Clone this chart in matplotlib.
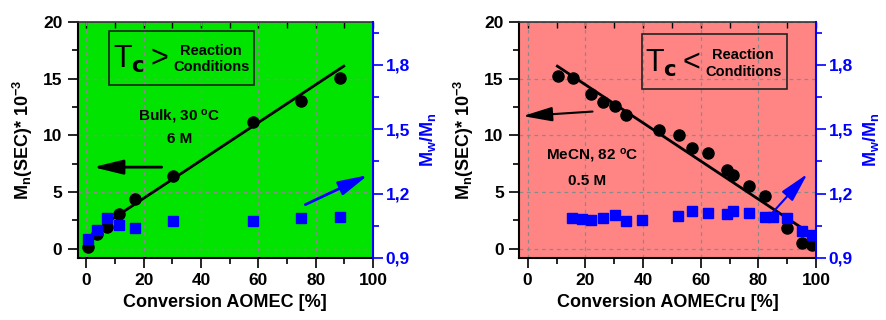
"""
Mn and Mw/Mn vs conversion: bulk AOMEC (left) and AOMECru in MeCN (right).
"""
import matplotlib
matplotlib.use('Agg')
import matplotlib.pyplot as plt
from matplotlib.ticker import MultipleLocator, FuncFormatter
from matplotlib.patches import Rectangle

plt.rcParams['font.family'] = ['Liberation Sans', 'DejaVu Sans']
plt.rcParams['font.weight'] = 'bold'
plt.rcParams['mathtext.default'] = 'regular'

# left panel: bulk, 30 C, 6 M
bulk_conv = [0.7, 3.6, 7.1, 11.3, 17.0, 30.3, 58.2, 74.9, 88.4]
bulk_mn = [0.2, 1.3, 1.9, 3.1, 4.4, 6.4, 11.2, 13.0, 15.1]
bulk_pdi = [0.99, 1.03, 1.086, 1.052, 1.04, 1.074, 1.074, 1.085, 1.089]
bulk_fit_x = [8.3, 89.8]
bulk_fit_y = [2.5, 16.1]

# right panel: MeCN, 82 C, 0.5 M
mecn_conv = [10.4, 15.7, 22.1, 26.1, 30.4, 34.1, 45.4, 52.4, 57.0, 62.6,
             69.0, 71.2, 76.7, 82.2, 89.8, 95.0, 98.6]
mecn_mn = [15.26, 15.05, 13.64, 12.96, 12.6, 11.78, 10.5, 10.07, 8.92, 8.45,
           6.92, 6.48, 5.5, 4.68, 1.8, 0.5, 0.3]
mecn_pdi_conv = [15.5, 18.8, 22.1, 26.1, 30.4, 34.1, 39.5, 52.2, 57.0, 62.6,
                 69.0, 71.2, 76.7, 82.2, 85.2, 89.8, 95.0, 98.6]
mecn_pdi = [1.088, 1.08, 1.077, 1.088, 1.10, 1.072, 1.078, 1.094, 1.12, 1.11,
            1.103, 1.117, 1.108, 1.089, 1.089, 1.085, 1.026, 1.005]
mecn_fit_x = [10.3, 99.5]
mecn_fit_y = [16.1, 1.1]

xticks = [0, 20, 40, 60, 80, 100]
yticks = [0, 5, 10, 15, 20]
pdi_ticks = [0.9, 1.2, 1.5, 1.8]

BLUE = '#0000FF'

fig = plt.figure(figsize=(8.86, 3.2), dpi=100)


def make_panel(rect, bg, xlabel):
    ax = fig.add_axes(rect)
    ax.set_facecolor(bg)
    ax.set_xlim(-3, 100)
    ax.set_ylim(-0.8, 20)
    ax.set_xticks(xticks)
    ax.set_yticks(yticks)
    ax.xaxis.set_minor_locator(MultipleLocator(10))
    ax.yaxis.set_minor_locator(MultipleLocator(2.5))
    ax.tick_params(which='major', direction='out', length=7, width=1.2,
                   labelsize=12.5, pad=4)
    ax.tick_params(which='minor', direction='out', length=4, width=1.2)
    ax.grid(True, which='major', linestyle=(0, (3, 3)), color='#8a8a8a', lw=0.9)
    for s in ['left', 'bottom']:
        ax.spines[s].set_linewidth(1.5)
    ax.spines['top'].set_color('#333333')
    ax.spines['top'].set_linewidth(1.2)
    ax.spines['right'].set_visible(False)
    top = ax.secondary_xaxis('top')
    top.set_xticks(xticks)
    top.xaxis.set_minor_locator(MultipleLocator(10))
    top.tick_params(which='both', direction='in', length=4, width=1.0,
                    labeltop=False)
    top.spines['top'].set_visible(False)
    ax.set_xlabel(xlabel, fontsize=13, fontweight='bold', labelpad=4)
    ax.set_ylabel(r'M$_n$(SEC)* 10$^{-3}$', fontsize=13, fontweight='bold',
                  labelpad=6)

    ax2 = ax.twinx()
    ax2.set_ylim(0.9, 2.0)
    ax2.set_yticks(pdi_ticks)
    ax2.yaxis.set_minor_locator(MultipleLocator(0.15))
    ax2.yaxis.set_major_formatter(FuncFormatter(lambda v, p: f'{v:.1f}'.replace('.', ',')))
    ax2.tick_params(which='major', direction='out', length=7, width=1.2,
                    colors=BLUE, labelsize=12.5, pad=2)
    ax2.tick_params(which='minor', direction='out', length=4, width=1.2,
                    colors=BLUE)
    ax2.spines['right'].set_color(BLUE)
    ax2.spines['right'].set_linewidth(1.5)
    for s in ['left', 'top', 'bottom']:
        ax2.spines[s].set_visible(False)
    ax2.set_ylabel(r'M$_w$/M$_n$', fontsize=13, fontweight='bold', color=BLUE,
                   labelpad=6)
    return ax, ax2


def tc_box(ax, box, t_pos, sign, text_pos):
    ax.add_patch(Rectangle((box[0], box[1]), box[2], box[3], transform=ax.transAxes,
                           fill=False, lw=1.2, ec='#222222', zorder=5))
    ax.text(t_pos[0], t_pos[1], r'T$_{\mathbf{c}}$' + sign, transform=ax.transAxes,
            fontsize=22, fontweight='normal', ha='left', va='baseline', zorder=6)
    ax.text(text_pos[0], text_pos[1], 'Reaction\nConditions', transform=ax.transAxes,
            fontsize=10.5, fontweight='bold', ha='center', va='center',
            linespacing=1.2, zorder=6)


def arrow(ax, tail, head, color, lw):
    ax.annotate('', xy=head, xytext=tail,
                arrowprops=dict(arrowstyle='-|>,head_length=0.9,head_width=0.22',
                                color=color, lw=lw, mutation_scale=20,
                                shrinkA=0, shrinkB=0))


# ---- left panel
axL, axL2 = make_panel([0.0877, 0.194, 0.3333, 0.7375], '#00E400',
                       'Conversion AOMEC [%]')
axL.plot(bulk_fit_x, bulk_fit_y, color='black', lw=2)
axL.plot(bulk_conv, bulk_mn, 'o', color='black', ms=8)
axL2.plot(bulk_conv, bulk_pdi, 's', color=BLUE, ms=7)
arrow(axL, (26.3, 7.2), (2.4, 7.2), 'black', 2)
arrow(axL, (76.4, 3.9), (98.3, 6.5), BLUE, 2)
axL.text(32.4, 11.66, 'Bulk, 30 $^o$C', fontsize=11, fontweight='bold',
         ha='center', va='center')
axL.text(32.4, 9.66, '6 M', fontsize=11, fontweight='bold', ha='center', va='center')
tc_box(axL, (0.107, 0.732, 0.491, 0.23), (0.118, 0.805), '$\\,$>', (0.452, 0.843))

# ---- right panel
axR, axR2 = make_panel([0.5858, 0.194, 0.3352, 0.7375], '#FF8585',
                       'Conversion AOMECru [%]')
axR.plot(mecn_fit_x, mecn_fit_y, color='black', lw=2)
axR.plot(mecn_conv, mecn_mn, 'o', color='black', ms=8)
axR2.plot(mecn_pdi_conv, mecn_pdi, 's', color=BLUE, ms=7)
arrow(axR, (22.5, 12.1), (-1.7, 11.7), 'black', 1.5)
arrow(axR, (84.6, 3.1), (97.0, 6.6), BLUE, 1.5)
axR.text(22.5, 8.2, 'MeCN, 82 $^o$C', fontsize=11, fontweight='bold',
         ha='center', va='center')
axR.text(20.6, 6.0, '0.5 M', fontsize=11, fontweight='bold', ha='center', va='center')
tc_box(axR, (0.414, 0.715, 0.487, 0.233), (0.425, 0.79), '$\\,$<', (0.755, 0.824))

plt.savefig('out.png', dpi=100)
